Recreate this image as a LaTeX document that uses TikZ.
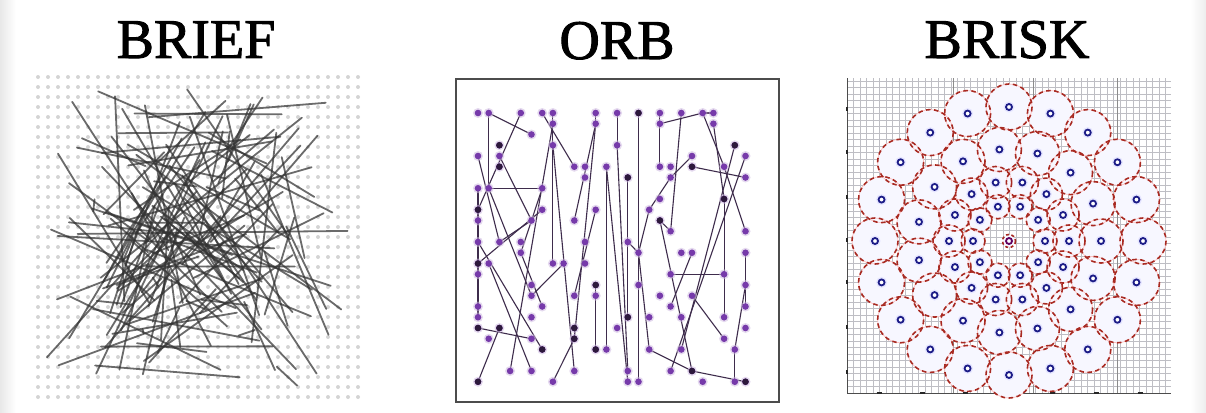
\documentclass[tikz,border=0pt]{standalone}
\usepackage{fontspec}
\setmainfont{Liberation Serif}
\newfontfamily\titlefont{Liberation Serif}[FakeBold=1.6]
\definecolor{orbp}{RGB}{118,58,170}
\definecolor{orbd}{RGB}{45,25,60}
\definecolor{orbl}{RGB}{62,44,76}
\definecolor{bred}{RGB}{168,42,34}
\definecolor{bblue}{RGB}{28,28,135}
\definecolor{bgrid}{RGB}{190,190,196}
\begin{document}
\begin{tikzpicture}[x=1pt,y=-1pt,
  title/.style={font=\titlefont\fontsize{56}{56}\selectfont, anchor=base, inner sep=0pt, text=black},
  briefdot/.style={fill=black!17},
  briefline/.style={draw=black!80, line width=1.8pt, opacity=0.72, line cap=round},
  orbline/.style={draw=orbl, line width=1.1pt},
  orbhalo/.style={fill=orbp!35, opacity=0.55},
  orbdot/.style={fill=orbp},
  orbdark/.style={fill=orbd},
  brgrid/.style={draw=bgrid, line width=0.6pt},
  brgridd/.style={draw=black!45, line width=0.7pt},
  bfill/.style={fill=blue!3},
  bpink/.style={draw=red!25, line width=0.7pt},
  bdash/.style={draw=bred, line width=1.6pt, dash pattern=on 4.5pt off 3.5pt},
  bpt/.style={draw=bblue, line width=1.8pt, fill=white},
  bhalo/.style={fill=blue!10},
  tick/.style={draw=black!85, line width=2pt}
]
\useasboundingbox (0,0) rectangle (1206,412);
\fill[white] (0,0) rectangle (1206,412);
\shade[left color=black!9, right color=white] (0,0) rectangle (16,412);
\shade[left color=white, right color=black!7] (1190,0) rectangle (1206,412);

% ---------- titles ----------
\node[title] (tbrief) at (196,58) {BRIEF};
\node[title] (torb) at (617,59) {ORB};
\node[title] (tbrisk) at (1007,58) {BRISK};

% ---------- BRIEF ----------
\foreach \i in {0,...,32}{
  \foreach \j in {0,...,32}{
    \fill[briefdot] (38+10*\i,77+10*\j) circle (2);
  }
}
\pgfmathsetseed{4242}
\foreach \k in {1,...,132}{
  \pgfmathsetmacro\xa{198+163*(0.72*rand+0.28*rand)}
  \pgfmathsetmacro\ya{238+163*(0.72*rand+0.28*rand)}
  \pgfmathsetmacro\xb{198+163*(0.72*rand+0.28*rand)}
  \pgfmathsetmacro\yb{238+163*(0.72*rand+0.28*rand)}
  \draw[briefline] (\xa,\ya) -- (\xb,\yb);
}

% ---------- ORB ----------
\draw[line width=1.3pt, draw=black!70] (456,79) rectangle (779,402);
\begin{scope}[shift={(478,113)}, x=10.7pt, y=-10.75pt]
\foreach \a/\b/\c/\d in {1/0/5/2, 1/0/1/7, 4/0/0/9, 6/0/9/5, 7/0/7/3, 1/7/6/7,
  0/4/2/12, 2/4/5/10, 5/10/2/12, 6/7/4/13, 7/1/3/24, 7/3/7/14, 7/3/9/24,
  9/10/11/1, 11/0/11/1, 11/1/9/21, 11/16/11/22, 12/5/12/22, 13/0/13/3,
  13/3/14/24, 14/6/14/19, 12/5/14/25, 14/12/15/13, 15/13/16/22, 16/22/20/24,
  20/24/25/25, 18/6/16/9, 16/9/15/13, 18/6/20/4, 17/1/21/0, 21/0/22/0,
  17/0/17/5, 19/0/18/11, 21/0/23/5, 23/5/25/11, 22/1/23/8, 20/5/25/6,
  24/3/19/22, 25/4/18/24, 17/10/18/11, 17/10/20/24, 18/15/23/15, 25/13/25/18,
  25/16/24/22, 24/22/24/25, 20/17/23/21, 20/13/18/18, 0/20/5/21, 2/20/0/25,
  7/25/9/21, 0/12/6/22, 4/13/6/18, 1/14/5/24, 15/0/15/25, 0/7/0/19,
  1/7/5/17, 6/9/0/14, 5/17/8/14, 9/17/11/9, 23/8/23/19, 9/20/9/21}
  \draw[orbline] (\a,\b) -- (\c,\d);
\foreach \a/\b in {0/0,0/4,0/7,0/9,0/10,0/12,0/14,0/15,0/18,0/19,0/20,0/25,
  1/0,1/7,1/14,1/21, 2/3,2/4,2/5,2/12,2/20, 3/24, 4/0,4/12,4/13,
  5/2,5/10,5/16,5/17,5/19,5/21,5/24, 6/0,6/7,6/9,6/18,6/22,
  7/0,7/1,7/3,7/14,7/25, 8/14, 9/5,9/10,9/17,9/20,9/21,9/24,
  10/5,10/6,10/12,10/14, 11/0,11/1,11/9,11/16,11/17,11/22, 12/5,12/22,
  13/0,13/3,13/20, 14/6,14/12,14/19,14/24,14/25, 15/0,15/13,15/16,15/25,
  16/9,16/19,16/22, 17/0,17/1,17/5,17/8,17/10,17/17,
  18/5,18/6,18/11,18/15,18/18,18/24, 19/0,19/13,19/19,19/22,
  20/4,20/5,20/13,20/17,20/24, 21/0,21/25, 22/0,22/1,
  23/5,23/8,23/15,23/19,23/21, 24/3,24/22,24/25,
  25/4,25/6,25/11,25/13,25/16,25/18,25/20,25/25}
  {\fill[orbhalo] (\a,\b) circle (5pt);
   \fill[orbdot] (\a,\b) circle (3.3pt);}
\foreach \a/\b in {15/0,14/6,17/10,24/3,20/24,25/25,0/20,2/20,0/25,9/21,11/22,
  14/19,23/8,2/3,2/5,6/22,20/5,9/20,0/9,0/14,11/16}
  \fill[orbdark] (\a,\b) circle (3.3pt);
\end{scope}

% ---------- BRISK ----------
\foreach \i in {0,...,49}
  \draw[brgrid] (847+6.5*\i,78) -- (847+6.5*\i,393);
\foreach \j in {0,...,48}
  \draw[brgrid] (847,393-6.5*\j) -- (1171,393-6.5*\j);
\foreach \xx in {953,1033,1117}
  \draw[brgridd] (\xx,78) -- (\xx,393);
\draw[draw=black!70, line width=1pt] (847,78) -- (847,393) -- (1171,393);
\foreach \yy in {109,152,197,240,282,327,372}
  \draw[tick] (847,\yy-2) -- (847,\yy+2);
\foreach \xx in {879,922,965,1008,1052,1096,1140}
  \draw[tick] (\xx-2.5,393) -- (\xx+2.5,393);

\coordinate (bc) at (1009,241);
\foreach \n/\R/\r in {10/36/12, 14/60/16, 15/92/22, 20/134/23}
  \foreach \k in {1,...,\n}
    \fill[bfill, shift={(bc)}] ({\k*360/\n}:\R) circle (\r);
\fill[bfill] (bc) circle (6);
\foreach \n/\R/\r in {10/36/12, 14/60/16, 15/92/22, 20/134/23}
  \foreach \k in {1,...,\n}
    \draw[bpink, shift={(bc)}] ({\k*360/\n}:\R) circle (\r);
\foreach \n/\R/\r in {10/36/12, 14/60/16, 15/92/22, 20/134/23}
  \foreach \k in {1,...,\n}
    \draw[bdash, shift={(bc)}] ({\k*360/\n}:\R) circle (\r);
\draw[bdash, dash pattern=on 3pt off 2.5pt] (bc) circle (6.5);
\foreach \n/\R in {10/36, 14/60, 15/92, 20/134}
  \foreach \k in {1,...,\n}{
    \fill[bhalo, shift={(bc)}] ({\k*360/\n}:\R) circle (5.5);
    \draw[bpt, shift={(bc)}] ({\k*360/\n}:\R) circle (3pt);
  }
\draw[bpt, draw=violet!75!black] (bc) circle (3pt);
\end{tikzpicture}
\end{document}
